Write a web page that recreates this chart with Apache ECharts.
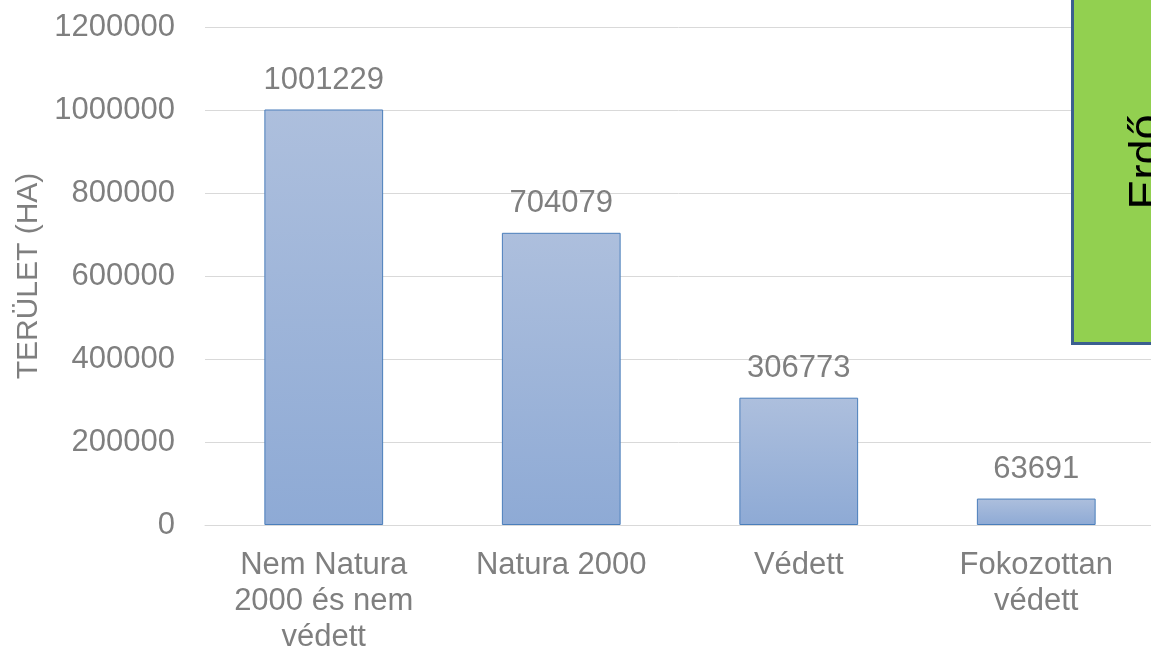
<!DOCTYPE html>
<html>
<head>
<meta charset="utf-8">
<script src="https://cdn.jsdelivr.net/npm/echarts@6/dist/echarts.min.js"></script>
<style>
  html, body { margin: 0; padding: 0; background: #fff; }
  #chart { width: 1151px; height: 649px; }
</style>
</head>
<body>
<div id="chart"></div>
<script>
// Forest area (ha) by protection status
const categories = ['Nem Natura\n2000 és nem\nvédett', 'Natura 2000', 'Védett', 'Fokozottan\nvédett'];
const areaValues = [1001229, 704079, 306773, 63691];
const yTicks = [0, 200000, 400000, 600000, 800000, 1000000, 1200000];

const chart = echarts.init(document.getElementById('chart'));
const font = 'Liberation Sans, Arial, sans-serif';

chart.setOption({
  animation: false,
  grid: { left: 205, right: -4, top: 27, bottom: 124, containLabel: false, outerBoundsMode: 'none' },
  xAxis: {
    type: 'category',
    data: categories,
    axisLine: { lineStyle: { color: '#d9d9d9', width: 1 } },
    axisTick: { show: false },
    axisLabel: { color: '#7f7f7f', fontSize: 31, fontFamily: font, lineHeight: 36, margin: 22, interval: 0 }
  },
  yAxis: {
    type: 'value',
    min: yTicks[0],
    max: yTicks[yTicks.length - 1],
    interval: yTicks[1] - yTicks[0],
    name: 'TERÜLET (HA)',
    nameLocation: 'middle',
    nameGap: 161,
    nameRotate: 90,
    nameTextStyle: { color: '#7f7f7f', fontSize: 30, fontFamily: font },
    axisLine: { show: false },
    axisTick: { show: false },
    splitLine: { lineStyle: { color: '#d9d9d9', width: 1 } },
    axisLabel: {
      color: '#7f7f7f', fontSize: 31, fontFamily: font, margin: 30,
      formatter: v => String(v)
    }
  },
  series: [{
    type: 'bar',
    data: areaValues,
    barWidth: '50%',
    itemStyle: {
      color: new echarts.graphic.LinearGradient(0, 0, 0, 1, [
        { offset: 0, color: '#adbfdd' },
        { offset: 1, color: '#8eaad5' }
      ]),
      borderColor: '#4a7ebb',
      borderWidth: 1
    },
    label: {
      show: true,
      position: 'top',
      distance: 14,
      color: '#7f7f7f',
      fontSize: 31,
      fontFamily: font
    }
  }],
  graphic: [{
    type: 'rect',
    left: 1071,
    top: -10,
    shape: { width: 100, height: 352 },
    style: { fill: '#92d050', stroke: '#3b5f8f', lineWidth: 3 },
    z: 10
  }, {
    type: 'text',
    x: 1170,
    y: 162,
    rotation: Math.PI / 2,
    style: {
      text: 'Erdő',
      fill: '#000',
      fontSize: 45,
      fontFamily: font,
      align: 'center',
      verticalAlign: 'bottom'
    },
    z: 11
  }]
});
</script>
</body>
</html>
